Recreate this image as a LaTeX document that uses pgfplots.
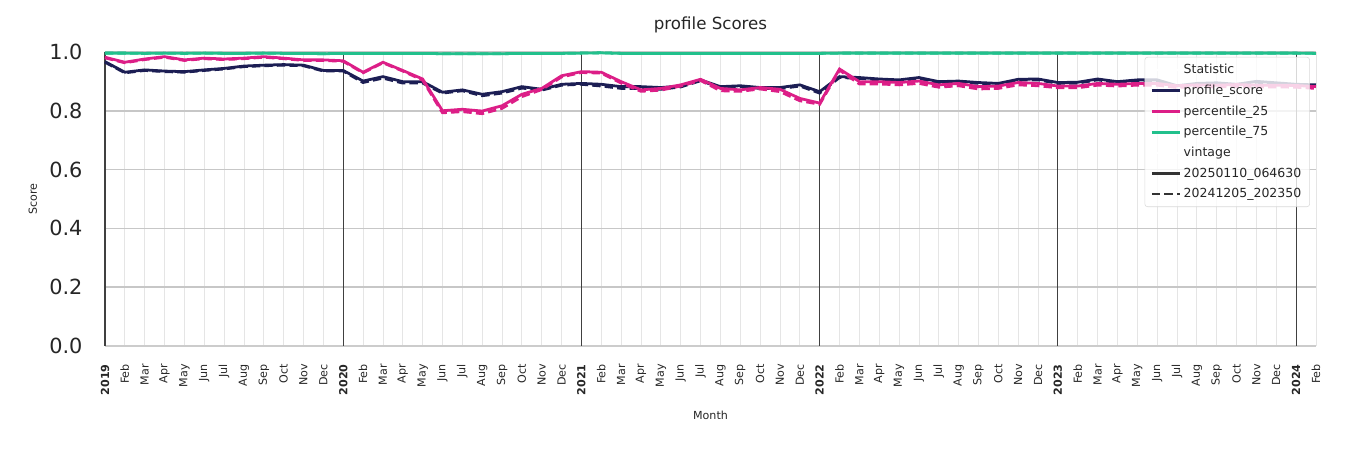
\documentclass[border=0pt]{standalone}
\usepackage{pgfplots}
\usepackage{pgfplotstable}
\usepackage{fontspec}
\setmainfont{DejaVu Sans}
\pgfplotsset{compat=1.18}

\definecolor{navy}{RGB}{28,30,84}
\definecolor{pinkc}{RGB}{220,30,135}
\definecolor{greenc}{RGB}{34,192,140}

% monthly values, Jan 2019 .. Feb 2024 (x = row index)
% ps/psd = profile_score (vintage 20250110 / 20241205), p25, p75 likewise
\pgfplotstableread{
ps     psd    p25    p25d   p75
0.967  0.965  0.982  0.980  0.996
0.931  0.929  0.965  0.963  0.996
0.939  0.937  0.976  0.974  0.995
0.935  0.933  0.984  0.982  0.996
0.933  0.931  0.973  0.971  0.995
0.939  0.937  0.979  0.977  0.996
0.944  0.942  0.976  0.974  0.995
0.952  0.950  0.979  0.977  0.995
0.955  0.953  0.984  0.982  0.996
0.957  0.955  0.979  0.977  0.995
0.955  0.953  0.973  0.971  0.995
0.937  0.935  0.973  0.971  0.994
0.937  0.935  0.970  0.968  0.995
0.901  0.896  0.931  0.929  0.995
0.916  0.911  0.965  0.963  0.995
0.899  0.894  0.937  0.935  0.995
0.899  0.894  0.908  0.904  0.995
0.863  0.860  0.800  0.793  0.994
0.871  0.868  0.805  0.797  0.994
0.856  0.851  0.799  0.790  0.994
0.865  0.860  0.817  0.808  0.994
0.882  0.877  0.856  0.848  0.995
0.873  0.870  0.876  0.872  0.995
0.890  0.887  0.919  0.915  0.995
0.893  0.890  0.933  0.930  0.996
0.890  0.884  0.931  0.928  0.997
0.882  0.876  0.899  0.894  0.995
0.882  0.876  0.871  0.866  0.995
0.879  0.873  0.876  0.870  0.995
0.884  0.881  0.888  0.884  0.995
0.905  0.902  0.907  0.903  0.995
0.882  0.879  0.876  0.868  0.995
0.885  0.882  0.871  0.866  0.995
0.879  0.876  0.879  0.874  0.995
0.879  0.875  0.873  0.865  0.995
0.888  0.884  0.842  0.834  0.995
0.865  0.860  0.826  0.822  0.995
0.916  0.913  0.942  0.938  0.996
0.913  0.910  0.899  0.891  0.996
0.908  0.905  0.899  0.891  0.996
0.905  0.902  0.896  0.888  0.996
0.913  0.910  0.901  0.893  0.996
0.899  0.896  0.888  0.880  0.996
0.901  0.898  0.893  0.885  0.996
0.896  0.893  0.882  0.874  0.996
0.893  0.890  0.884  0.876  0.996
0.907  0.904  0.896  0.888  0.996
0.908  0.905  0.893  0.885  0.996
0.896  0.893  0.884  0.878  0.996
0.897  0.894  0.884  0.878  0.996
0.908  0.905  0.893  0.887  0.996
0.899  0.896  0.890  0.884  0.996
0.905  0.902  0.893  0.887  0.996
0.905  0.902  0.893  0.887  0.996
0.885  0.882  0.885  0.879  0.996
0.893  0.890  0.888  0.882  0.996
0.895  0.892  0.887  0.881  0.996
0.890  0.887  0.889  0.883  0.996
0.900  0.897  0.887  0.881  0.996
0.895  0.892  0.887  0.881  0.996
0.890  0.887  0.886  0.880  0.996
0.888  0.885  0.882  0.876  0.995
}\scores

\begin{document}
\begin{tikzpicture}
\begin{axis}[
  scale only axis, width=871.9pt, height=211.7pt,
  at={(0,0)}, anchor=south west,
  xmin=0, xmax=61, ymin=0, ymax=1, clip=false,
  axis x line*=bottom, axis y line*=left,
  x axis line style={draw=black!20, line width=1.8pt, -},
  y axis line style={draw=black!75, line width=0.8pt, -},
  major tick length=0pt,
  xtick={0,...,61},
  xticklabels={\textbf{2019},Feb,Mar,Apr,May,Jun,Jul,Aug,Sep,Oct,Nov,Dec,
               \textbf{2020},Feb,Mar,Apr,May,Jun,Jul,Aug,Sep,Oct,Nov,Dec,
               \textbf{2021},Feb,Mar,Apr,May,Jun,Jul,Aug,Sep,Oct,Nov,Dec,
               \textbf{2022},Feb,Mar,Apr,May,Jun,Jul,Aug,Sep,Oct,Nov,Dec,
               \textbf{2023},Feb,Mar,Apr,May,Jun,Jul,Aug,Sep,Oct,Nov,Dec,
               \textbf{2024},Feb},
  xticklabel style={rotate=90, anchor=east, inner sep=0pt, xshift=-13pt,
                    font=\fontsize{8}{9}\selectfont, text=black!85},
  ytick={0,0.2,0.4,0.6,0.8,1.0},
  yticklabel style={font=\fontsize{15}{18}\selectfont, inner sep=0pt, xshift=-16pt, text=black!85,
                    /pgf/number format/.cd, fixed, fixed zerofill, precision=1, assume math mode=true},
  grid=major,
  major x grid style={draw=black!10, line width=0.6pt},
  major y grid style={draw=black!22, line width=1.2pt},
  extra x ticks={0,12,24,36,48,60}, extra x tick labels={},
  extra x tick style={grid=major, major x grid style={draw=black!75, line width=0.8pt}},
  title={profile Scores},
  title style={font=\fontsize{12}{14}\selectfont, at={(axis description cs:0.5,1)}, anchor=center, yshift=13.7pt, text=black!85},
  xlabel={Month},
  xlabel style={font=\fontsize{8}{9}\selectfont, at={(axis description cs:0.5,-0.235)}, anchor=center, text=black!85},
  ylabel={Score},
  ylabel style={font=\fontsize{8}{9}\selectfont, at={(axis description cs:-0.0596,0.5)}, anchor=center, text=black!85},
  legend cell align=left,
  legend image code/.code={\draw[#1] (0pt,0pt) -- (20pt,0pt);},
  legend style={at={(0.995,0.983)}, anchor=north east,
                font=\fontsize{9}{10}\selectfont, text=black!85,
                fill=white, fill opacity=0.8, text opacity=1,
                draw=black!15, rounded corners=2pt, row sep=2.6pt,
                inner xsep=4pt, inner ysep=3pt},
]
  \addplot[navy, line width=2pt, dash pattern=on 6pt off 3pt, forget plot] table[x expr=\coordindex, y=psd] {\scores};
  \addplot[navy, line width=2pt, forget plot] table[x expr=\coordindex, y=ps] {\scores};
  \addplot[pinkc, line width=2pt, dash pattern=on 6pt off 3pt, forget plot] table[x expr=\coordindex, y=p25d] {\scores};
  \addplot[pinkc, line width=2pt, forget plot] table[x expr=\coordindex, y=p25] {\scores};
  \addplot[greenc, line width=2pt, dash pattern=on 6pt off 3pt, forget plot] table[x expr=\coordindex, y=p75] {\scores};
  \addplot[greenc, line width=2pt, forget plot] table[x expr=\coordindex, y=p75] {\scores};

  \addlegendimage{draw=white, line width=2pt}
  \addlegendentry{Statistic}
  \addlegendimage{navy, line width=2pt}
  \addlegendentry{profile\_score}
  \addlegendimage{pinkc, line width=2pt}
  \addlegendentry{percentile\_25}
  \addlegendimage{greenc, line width=2pt}
  \addlegendentry{percentile\_75}
  \addlegendimage{draw=white, line width=2pt}
  \addlegendentry{vintage}
  \addlegendimage{black!80, line width=2pt}
  \addlegendentry{20250110\_064630}
  \addlegendimage{black!80, line width=2pt, dash pattern=on 6pt off 3pt}
  \addlegendentry{20241205\_202350}
\end{axis}
\pgfresetboundingbox
\path[use as bounding box] (-75.6pt,-74.9pt) rectangle (896.4pt,249.1pt);
\end{tikzpicture}
\end{document}
